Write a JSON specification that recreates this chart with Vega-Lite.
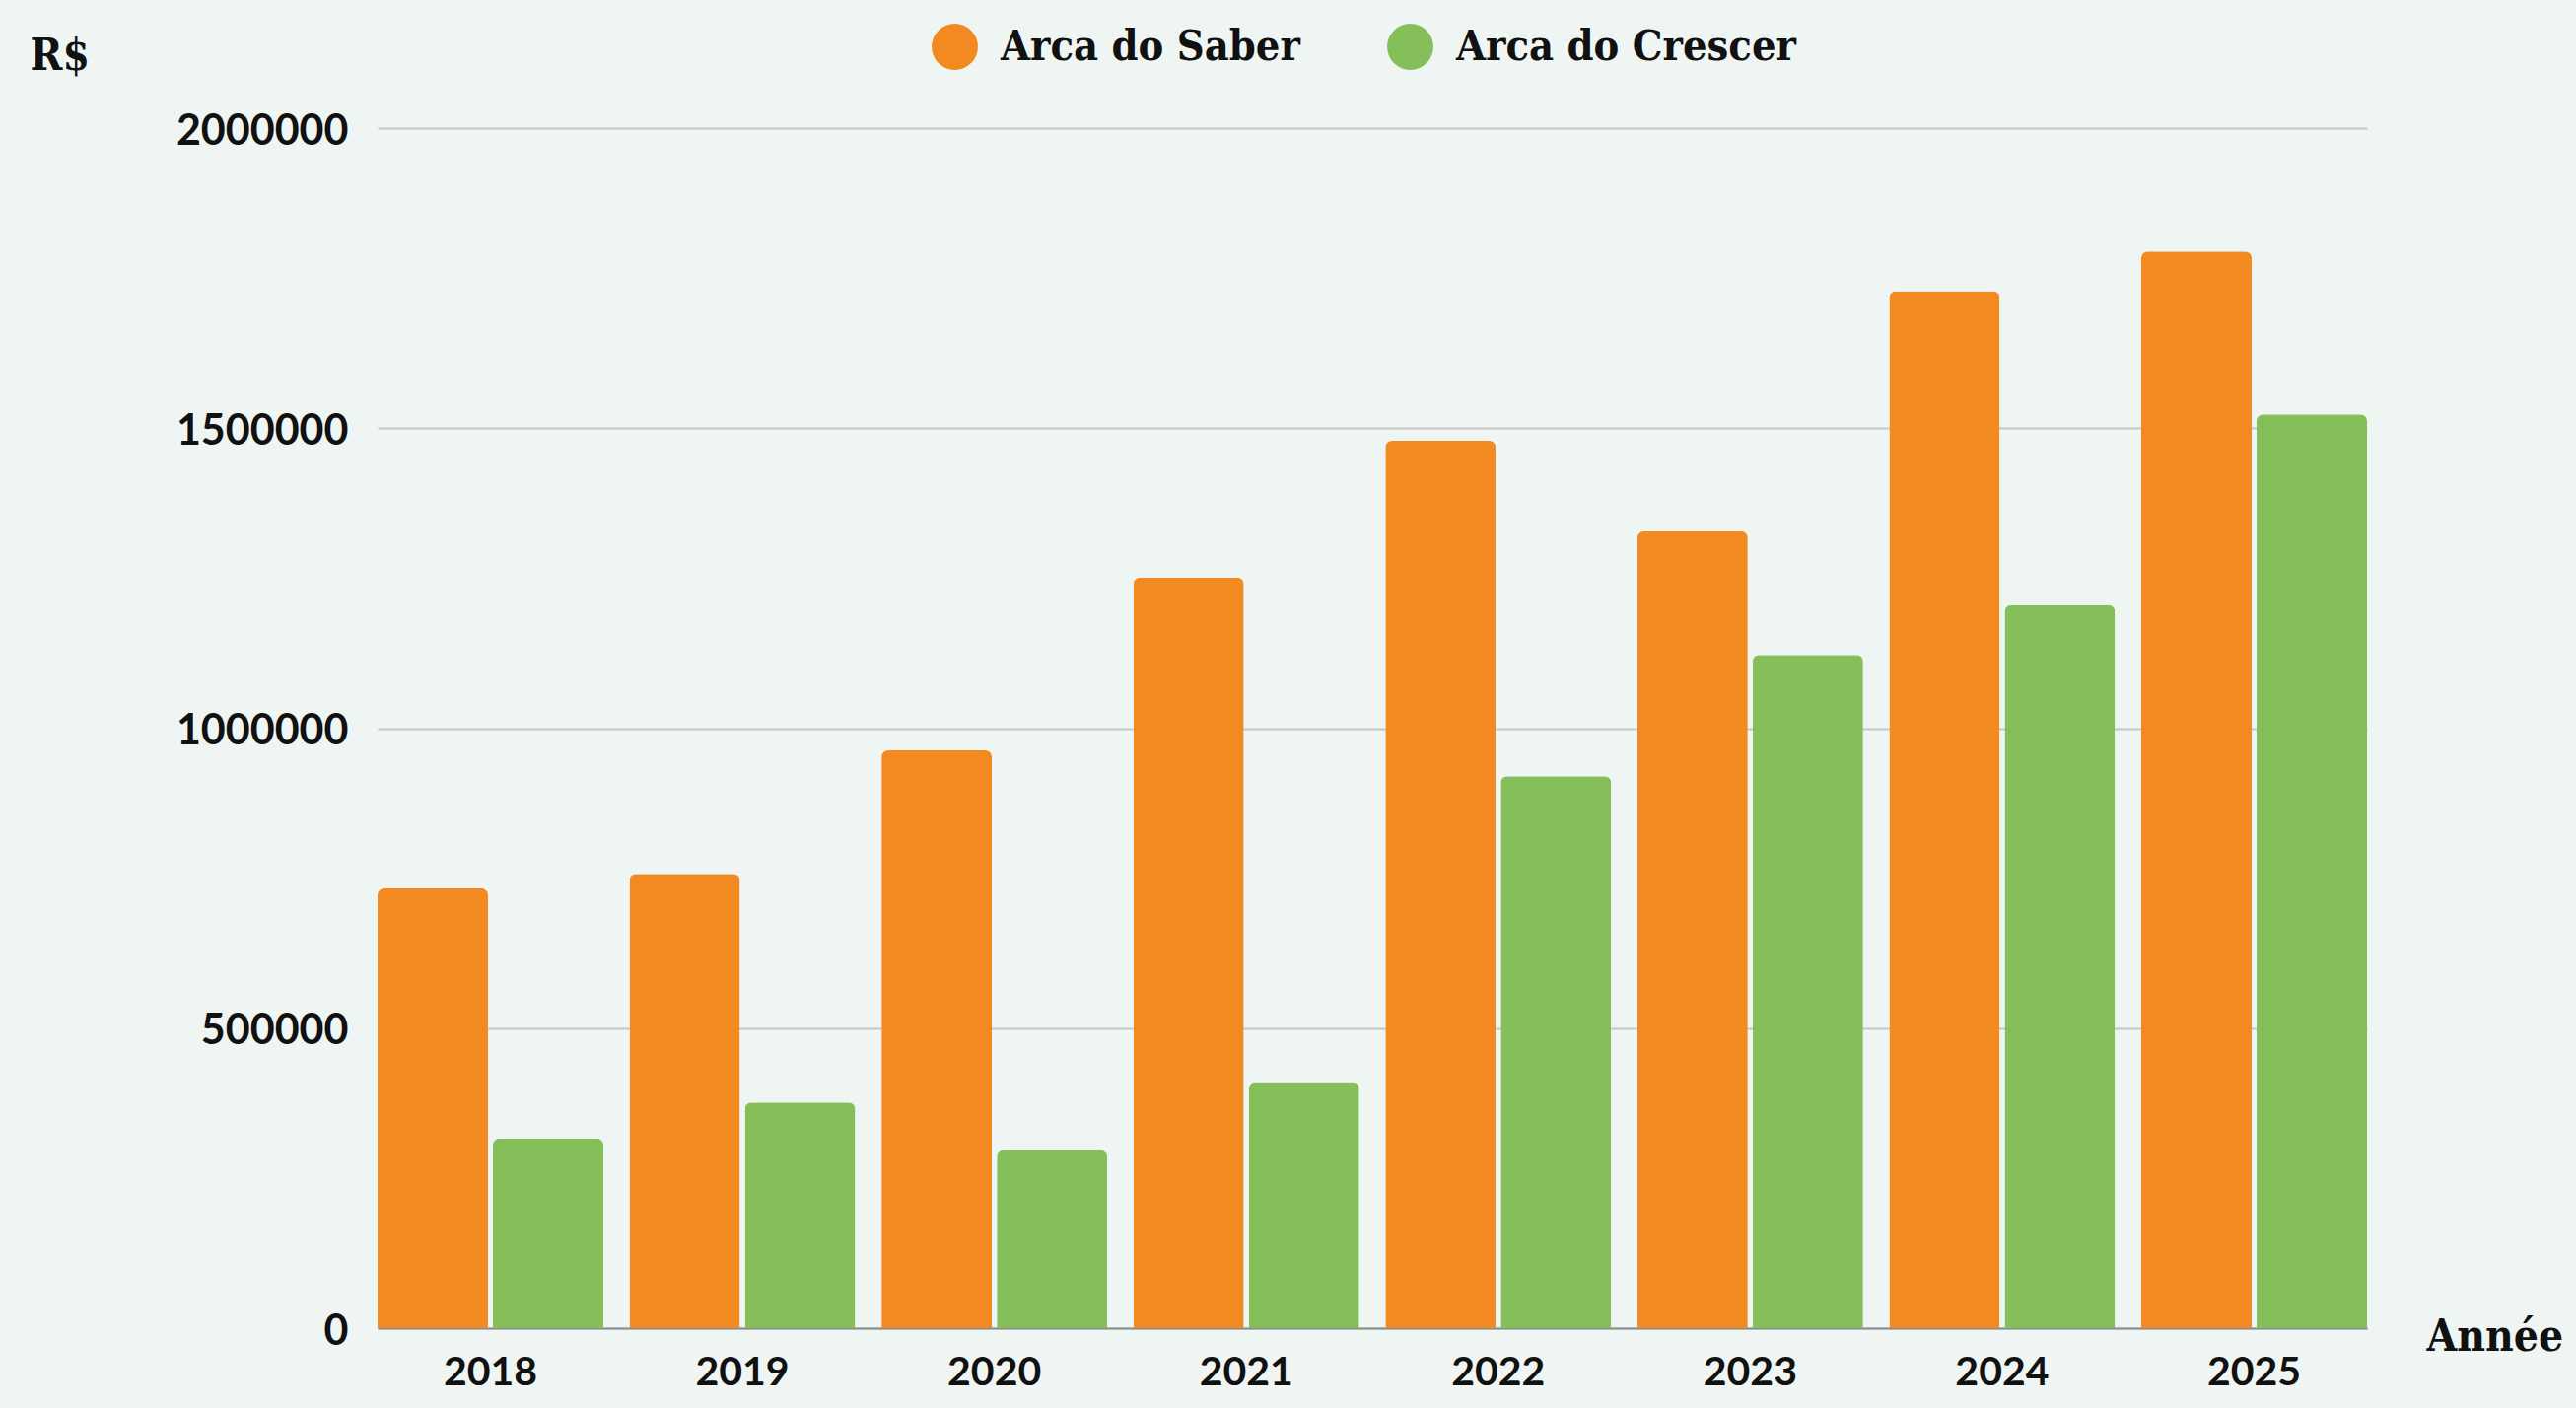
{
  "$schema": "https://vega.github.io/schema/vega-lite/v6.json",
  "autosize": "none",
  "width": 2018,
  "height": 1217,
  "padding": {"left": 383, "top": 130, "right": 212, "bottom": 81},
  "background": "#EFF5F2",
  "data": {
    "values": [
      {"annee": "2018", "serie": "Arca do Saber", "valeur": 733000},
      {"annee": "2018", "serie": "Arca do Crescer", "valeur": 316000},
      {"annee": "2019", "serie": "Arca do Saber", "valeur": 757000},
      {"annee": "2019", "serie": "Arca do Crescer", "valeur": 376000},
      {"annee": "2020", "serie": "Arca do Saber", "valeur": 963000},
      {"annee": "2020", "serie": "Arca do Crescer", "valeur": 298000},
      {"annee": "2021", "serie": "Arca do Saber", "valeur": 1251000},
      {"annee": "2021", "serie": "Arca do Crescer", "valeur": 410000},
      {"annee": "2022", "serie": "Arca do Saber", "valeur": 1479000},
      {"annee": "2022", "serie": "Arca do Crescer", "valeur": 920000},
      {"annee": "2023", "serie": "Arca do Saber", "valeur": 1328000},
      {"annee": "2023", "serie": "Arca do Crescer", "valeur": 1122000},
      {"annee": "2024", "serie": "Arca do Saber", "valeur": 1728000},
      {"annee": "2024", "serie": "Arca do Crescer", "valeur": 1205000},
      {"annee": "2025", "serie": "Arca do Saber", "valeur": 1794000},
      {"annee": "2025", "serie": "Arca do Crescer", "valeur": 1523000}
    ]
  },
  "mark": {"type": "bar", "cornerRadiusTopLeft": 7, "cornerRadiusTopRight": 7},
  "encoding": {
    "x": {
      "field": "annee", "type": "nominal",
      "scale": {"paddingInner": 0.104, "paddingOuter": 0},
      "axis": {
        "title": "Année", "titleFont": "DejaVu Serif Condensed", "titleFontWeight": "bold",
        "titleFontSize": 44, "titleColor": "#111111", "titleAnchor": "start", "titleAlign": "left",
        "titleBaseline": "alphabetic", "titleX": 2078, "titleY": 22,
        "labelAngle": 0, "labelFont": "Lato", "labelFontWeight": "bold", "labelFontSize": 41,
        "labelColor": "#111111", "labelPadding": 25, "ticks": false,
        "domain": true, "domainColor": "#8A8F8D", "domainWidth": 2
      }
    },
    "xOffset": {"field": "serie", "type": "nominal", "sort": ["Arca do Saber", "Arca do Crescer"], "scale": {"paddingInner": 0.043, "paddingOuter": 0}},
    "y": {
      "field": "valeur", "type": "quantitative",
      "scale": {"domain": [0, 2000000]},
      "axis": {
        "values": [0, 500000, 1000000, 1500000, 2000000], "format": "d",
        "title": "R$", "titleFont": "DejaVu Serif Condensed", "titleFontWeight": "bold",
        "titleFontSize": 44, "titleColor": "#111111", "titleAngle": 0, "titleAnchor": "start", "titleAlign": "left",
        "titleBaseline": "alphabetic", "titleX": -353, "titleY": -60,
        "labelFont": "Lato", "labelFontWeight": "bold", "labelFontSize": 43, "labelColor": "#111111",
        "labelPadding": 30, "labelOffset": 3, "ticks": false, "domain": false,
        "grid": true, "gridColor": "#C3C8C6", "gridWidth": 2
      }
    },
    "color": {
      "field": "serie", "type": "nominal",
      "sort": ["Arca do Saber", "Arca do Crescer"],
      "scale": {"domain": ["Arca do Saber", "Arca do Crescer"], "range": ["#F28A21", "#85BF59"]},
      "legend": {
        "title": null, "orient": "none", "direction": "horizontal",
        "legendX": 562, "legendY": -106,
        "symbolType": "circle", "symbolSize": 2200, "symbolStrokeWidth": 0, "symbolOpacity": 1,
        "labelFont": "DejaVu Serif Condensed", "labelFontWeight": "bold", "labelFontSize": 43, "labelColor": "#111111",
        "labelOffset": 23, "columnPadding": 88, "labelLimit": 600
      }
    }
  },
  "config": {"view": {"stroke": null}}
}
